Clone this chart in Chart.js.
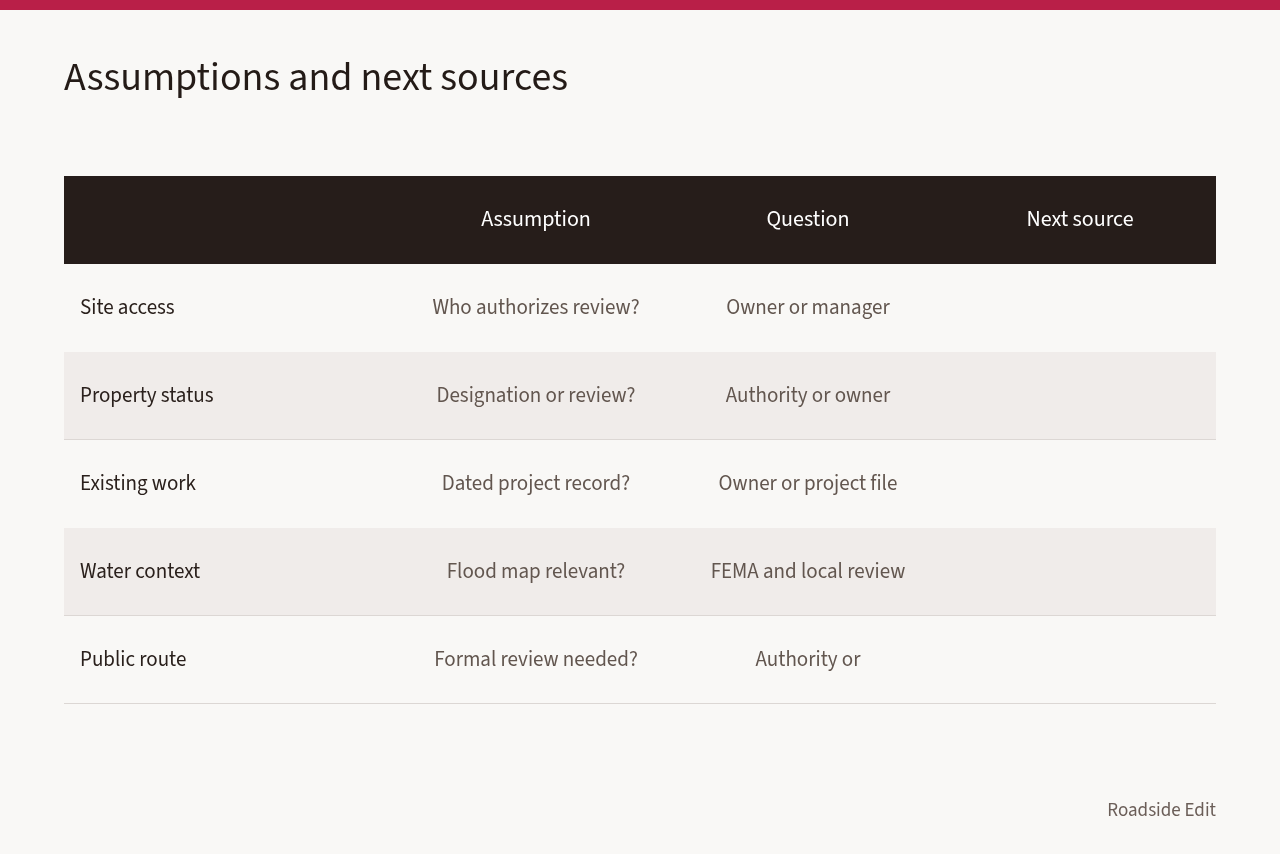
<!DOCTYPE html>
<html><head><meta charset="utf-8">
<script src="https://cdn.jsdelivr.net/npm/chart.js@4"></script>
<style>html,body{margin:0;background:#f9f8f6;}#w{width:1280px;height:854px;position:relative}</style>
</head><body><div id="w"><canvas id="c"></canvas></div>
<script>
const title = "Assumptions and next sources";
const columns = ["", "Assumption", "Question", "Next source"];
const rows = ["Site access", "Property status", "Existing work", "Water context", "Public route"];
const assumptions = ["Who authorizes review?", "Designation or review?", "Dated project record?", "Flood map relevant?", "Formal review needed?"];
const questions = ["Owner or manager", "Authority or owner", "Owner or project file", "FEMA and local review", "Authority or"];
const nextSources = ["", "", "", "", ""];
const footer = "Roadside Edit";
const F = '"Source Sans 3","Lato","Noto Sans",sans-serif';
const colCenters = [0, 472, 744, 1016]; // offsets from table left (px)

const tablePlugin = {
  id: 'table',
  beforeDraw(chart) {
    const ctx = chart.ctx, ys = chart.scales.y, a = chart.chartArea;
    const L = a.left, R = a.right;
    const band = ys.getPixelForValue(1) - ys.getPixelForValue(0);
    ctx.save();
    ctx.fillStyle = '#f9f8f6'; ctx.fillRect(0,0,chart.width,chart.height);
    ctx.fillStyle = '#b91f48'; ctx.fillRect(0,0,chart.width,10);
    ctx.fillStyle = '#241b17'; ctx.font = '40px ' + F; ctx.textBaseline = 'middle'; ctx.textAlign='left';
    ctx.fillText(title, 64, 81);
    const labels = ys.getLabels();
    labels.forEach((lab, i) => {
      const cy = ys.getPixelForValue(i), top = cy - band/2;
      if (i === 0) { ctx.fillStyle = '#261d1a'; ctx.fillRect(L, top, R-L, band); }
      else if (i % 2 === 0) { ctx.fillStyle = '#f0ecea'; ctx.fillRect(L, top, R-L, band); }
      if (i >= 2 && i % 2 === 0 || i === labels.length-1) {
        ctx.fillStyle = '#dcd7d4'; ctx.fillRect(L, top+band-1, R-L, 1);
      }
      if (i === 0) {
        ctx.fillStyle = '#ffffff'; ctx.font = '22px ' + F; ctx.textAlign = 'center';
        columns.forEach((c, j) => { if (c) ctx.fillText(c, L + colCenters[j], cy+1); });
      } else {
        const r = i - 1;
        ctx.font = '21px ' + F;
        ctx.textAlign = 'left'; ctx.fillStyle = '#2a201c';
        ctx.fillText(rows[r], L + 16, cy+1);
        ctx.textAlign = 'center'; ctx.fillStyle = '#62564f';
        ctx.fillText(assumptions[r], L + colCenters[1], cy+1);
        ctx.fillText(questions[r], L + colCenters[2], cy+1);
        ctx.fillText(nextSources[r], L + colCenters[3], cy+1);
      }
    });
    ctx.textAlign = 'right'; ctx.fillStyle = '#6b5e58'; ctx.font = '19px ' + F;
    ctx.fillText(footer, 1216, 812);
    ctx.restore();
  }
};

new Chart(document.getElementById('c'), {
  type: 'bar',
  data: { labels: ["header"].concat(rows), datasets: [{ data: [], indexAxis: 'y' }] },
  options: {
    indexAxis: 'y', responsive: true, maintainAspectRatio: false, animation: false,
    layout: { padding: { left: 64, right: 64, top: 176, bottom: 150 } },
    plugins: { legend: { display: false }, tooltip: { enabled: false } },
    scales: {
      y: { type: 'category', display: false, offset: true },
      x: { type: 'linear', display: false, min: 0, max: 1 }
    }
  },
  plugins: [tablePlugin]
});
</script></body></html>
